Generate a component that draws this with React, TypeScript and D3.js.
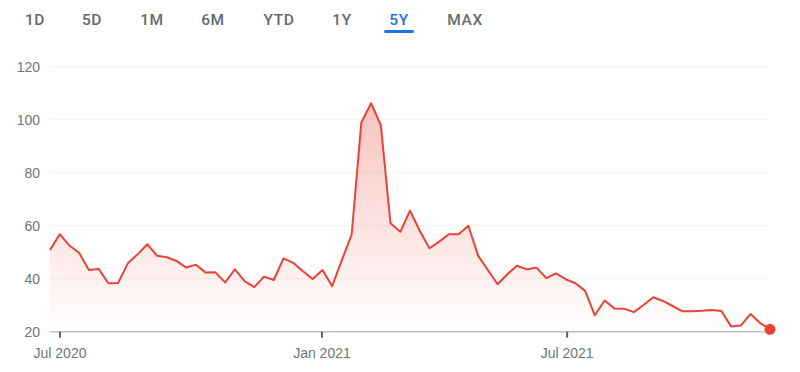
import React from "react";
import * as d3 from "d3";

const tabs = ["1D", "5D", "1M", "6M", "YTD", "1Y", "5Y", "MAX"];
const tabCenters = [35, 92, 152, 213, 279, 342, 399, 465];
const activeTab = "5Y";

const values = [
  50.8, 56.8, 52.5, 49.7, 43.3, 43.7, 38.3, 38.4, 45.8, 49.2,
  53.0, 48.7, 48.1, 46.7, 44.2, 45.3, 42.3, 42.4, 38.6, 43.5,
  39.1, 36.8, 40.8, 39.5, 47.7, 46.0, 42.8, 39.9, 43.3, 37.2,
  47.1, 56.5, 99.0, 106.2, 98.0, 60.9, 57.7, 65.7, 58.1, 51.5,
  54.0, 56.8, 56.8, 60.0, 48.7, 43.3, 37.9, 41.7, 44.9, 43.5,
  44.2, 40.2, 42.0, 39.8, 38.3, 35.4, 26.2, 31.8, 28.8, 28.7,
  27.4, 30.1, 33.0, 31.6, 29.7, 27.7, 27.7, 27.9, 28.2, 27.8,
  22.0, 22.3, 26.7, 23.2, 20.9,
];

const yTicks = [20, 40, 60, 80, 100, 120];
const xTickLabels = ["Jul 2020", "Jan 2021", "Jul 2021"];
const xTickIndex = [1.03, 27.95, 53.15];

export default function App() {
  const W = 800;
  const H = 372;
  const x = d3.scaleLinear().domain([0, values.length - 1]).range([50, 770]);
  const y = d3.scaleLinear().domain([20, 120]).range([331.7, 66.7]);

  const line = d3
    .line<number>()
    .x((_, i) => x(i))
    .y((d) => y(d));
  const area = d3
    .area<number>()
    .x((_, i) => x(i))
    .y0(y(20))
    .y1((d) => y(d));

  const last = values[values.length - 1];
  const maxV = d3.max(values) as number;

  return (
    <svg
      width={W}
      height={H}
      style={{ position: "absolute", left: 0, top: 0, background: "#fff" }}
    >
      <defs>
        <linearGradient
          id="fillGrad"
          gradientUnits="userSpaceOnUse"
          x1="0"
          x2="0"
          y1={y(maxV)}
          y2={y(20)}
        >
          <stop offset="0%" stopColor="#ea4335" stopOpacity={0.32} />
          <stop offset="100%" stopColor="#ea4335" stopOpacity={0} />
        </linearGradient>
      </defs>

      {tabs.map((t, i) => (
        <text
          key={t}
          x={tabCenters[i]}
          y={20}
          textAnchor="middle"
          dominantBaseline="central"
          fontFamily="Roboto, Arial, sans-serif"
          fontWeight={500}
          fontSize={15.5}
          letterSpacing={0.6}
          fill={t === activeTab ? "#1a73e8" : "#666a6e"}
        >
          {t}
        </text>
      ))}
      {tabs.map((t, i) =>
        t === activeTab ? (
          <rect
            key={"u" + t}
            x={tabCenters[i] - 15}
            y={30}
            width={30}
            height={3}
            rx={1.5}
            fill="#1a73e8"
          />
        ) : null
      )}

      {yTicks.slice(1).map((v) => (
        <line
          key={"g" + v}
          x1={50}
          x2={770}
          y1={y(v)}
          y2={y(v)}
          stroke="#f1f3f4"
          strokeWidth={1}
        />
      ))}
      {yTicks.map((v) => (
        <text
          key={"y" + v}
          x={40}
          y={y(v)}
          textAnchor="end"
          dominantBaseline="central"
          fontFamily="Arial, 'Liberation Sans', sans-serif"
          fontSize={14}
          fill="#70757a"
        >
          {v}
        </text>
      ))}

      <path d={area(values) || ""} fill="url(#fillGrad)" />

      <line x1={50} x2={772} y1={y(20)} y2={y(20)} stroke="#bdc1c6" strokeWidth={1.5} />
      {xTickIndex.map((t, i) => (
        <g key={"x" + i}>
          <line
            x1={x(t)}
            x2={x(t)}
            y1={y(20)}
            y2={y(20) + 6}
            stroke="#5f6368"
            strokeWidth={2}
          />
          <text
            x={x(t)}
            y={353}
            textAnchor="middle"
            dominantBaseline="central"
            fontFamily="Arial, 'Liberation Sans', sans-serif"
            fontSize={14}
            fill="#70757a"
          >
            {xTickLabels[i]}
          </text>
        </g>
      ))}

      <path
        d={line(values) || ""}
        fill="none"
        stroke="#ea4335"
        strokeWidth={2}
        strokeLinejoin="round"
      />
      <circle cx={x(values.length - 1)} cy={y(last)} r={5.5} fill="#ea4335" />
    </svg>
  );
}
